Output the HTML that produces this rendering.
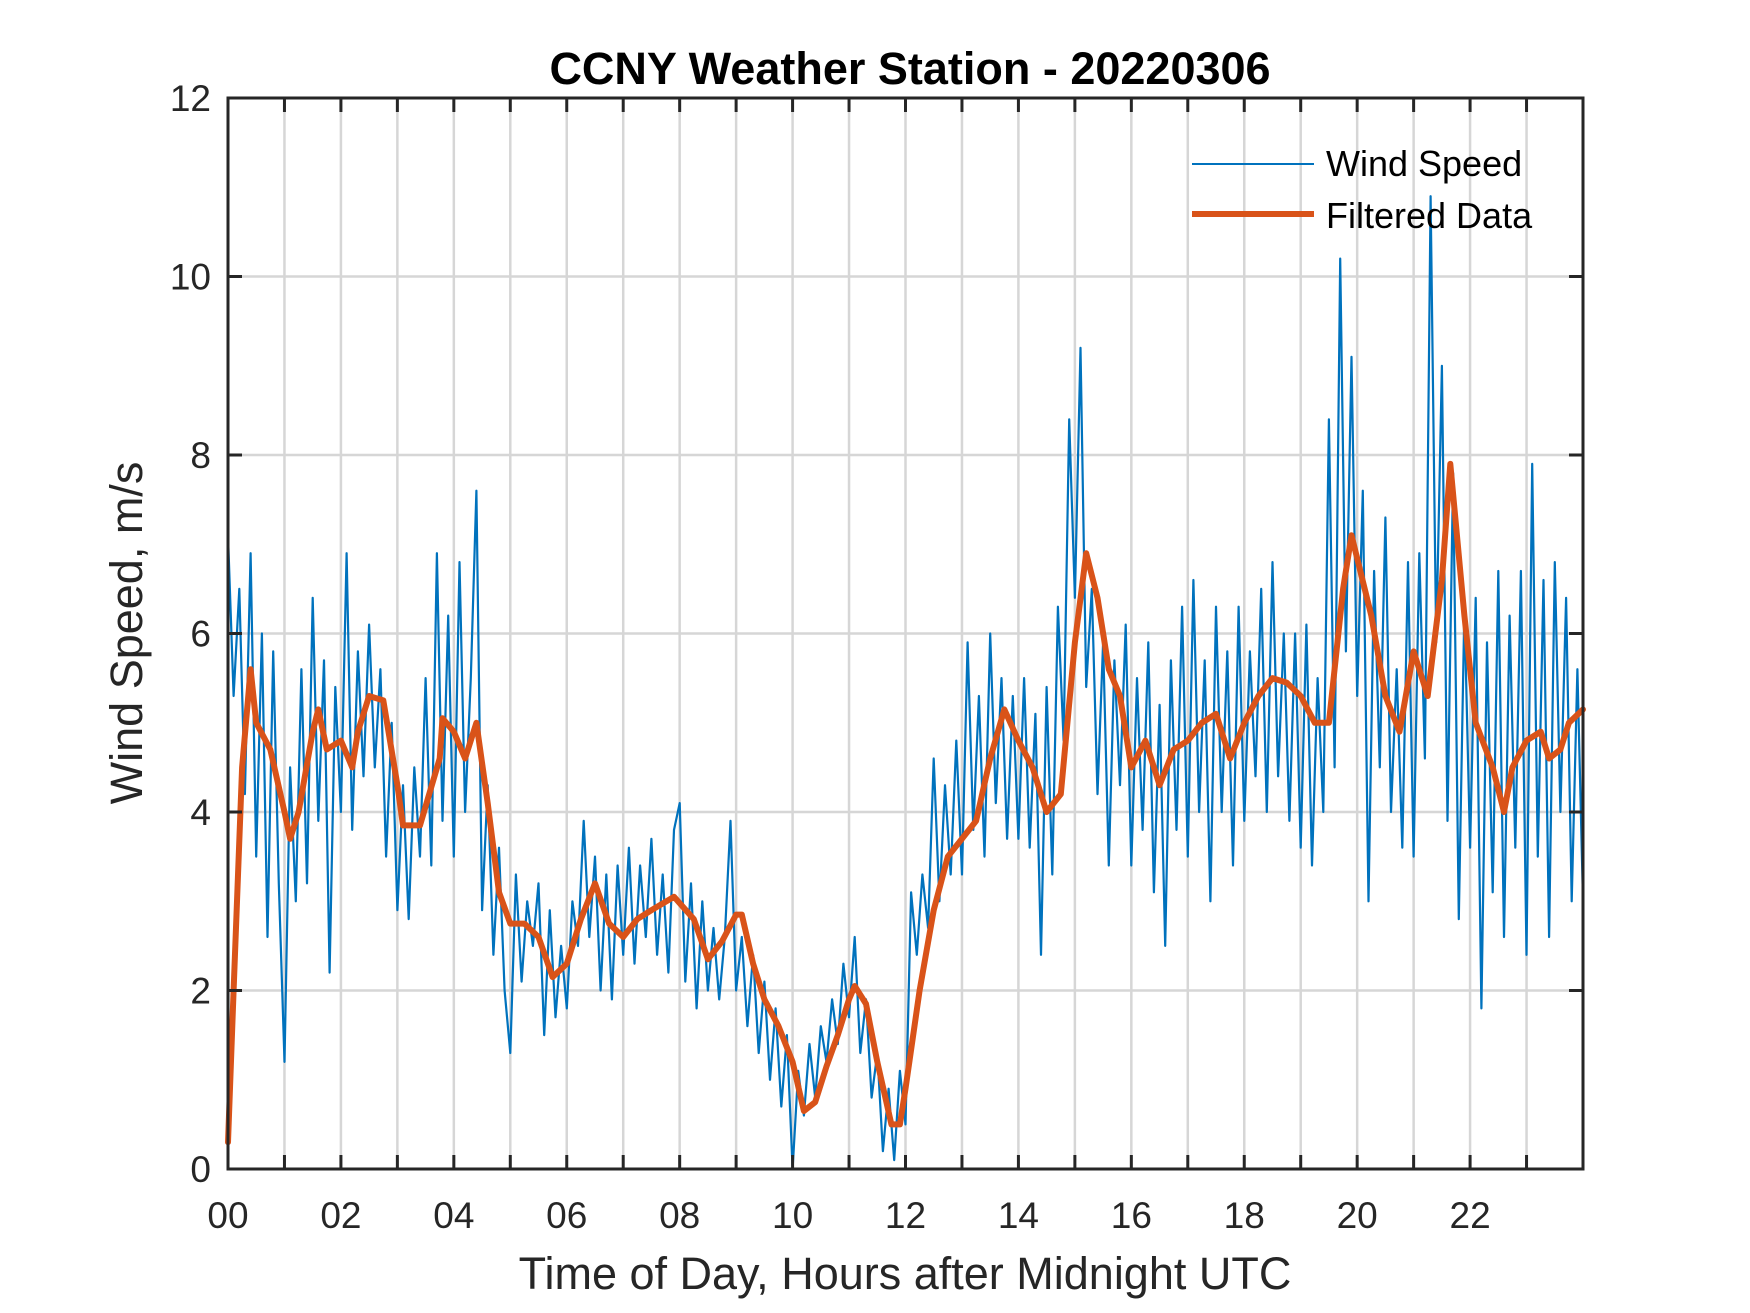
<!DOCTYPE html>
<html><head><meta charset="utf-8"><style>
html,body{margin:0;padding:0;background:#fff;}
svg{display:block;font-family:"Liberation Sans",Arial,sans-serif;}
</style></head><body>
<svg id="chart" width="1750" height="1313" viewBox="0 0 1750 1313" xmlns="http://www.w3.org/2000/svg">
<rect width="1750" height="1313" fill="#fff"/>
<g id="grid"></g>
<g id="series"></g>
<g id="axes"></g>
<text x="910" y="84" text-anchor="middle" font-size="45" font-weight="bold" fill="#000">CCNY Weather Station - 20220306</text>
<text x="905" y="1289" text-anchor="middle" font-size="45" fill="#262626">Time of Day, Hours after Midnight UTC</text>
<text transform="translate(142,633) rotate(-90)" text-anchor="middle" font-size="45" fill="#262626">Wind Speed, m/s</text>
<g>
<line x1="1192" y1="164" x2="1314" y2="164" stroke="#0072BD" stroke-width="2"/>
<text x="1326" y="176" font-size="36" fill="#000">Wind Speed</text>
<line x1="1192" y1="214" x2="1314" y2="214" stroke="#D95319" stroke-width="6"/>
<text x="1326" y="228" font-size="36" fill="#000">Filtered Data</text>
</g>
</svg>
<script>
const rawStep = 0.1;
const rawValues = [
7.1,5.3,6.5,4.2,6.9,3.5,6.0,2.6,5.8,3.2,
1.2,4.5,3.0,5.6,3.2,6.4,3.9,5.7,2.2,5.4,
4.0,6.9,3.8,5.8,4.4,6.1,4.5,5.6,3.5,5.0,
2.9,4.3,2.8,4.5,3.5,5.5,3.4,6.9,3.9,6.2,
3.5,6.8,4.0,5.5,7.6,2.9,4.3,2.4,3.6,2.0,
1.3,3.3,2.1,3.0,2.5,3.2,1.5,2.9,1.7,2.5,
1.8,3.0,2.5,3.9,2.6,3.5,2.0,3.3,1.9,3.4,
2.4,3.6,2.3,3.4,2.6,3.7,2.4,3.3,2.2,3.8,
4.1,2.1,3.2,1.8,3.0,2.0,2.7,1.9,2.6,3.9,
2.0,2.6,1.6,2.4,1.3,2.1,1.0,1.8,0.7,1.5,
0.0,1.1,0.6,1.4,0.8,1.6,1.2,1.9,1.4,2.3,
1.7,2.6,1.3,1.9,0.8,1.3,0.2,0.9,0.1,1.1,
0.5,3.1,2.4,3.3,2.7,4.6,3.0,4.3,3.3,4.8,
3.3,5.9,3.8,5.3,3.5,6.0,4.1,5.5,3.7,5.3,
3.7,5.5,3.6,5.1,2.4,5.4,3.3,6.3,4.8,8.4,
6.4,9.2,5.4,6.5,4.2,5.9,3.4,5.7,4.3,6.1,
3.4,5.5,3.8,5.9,3.1,5.2,2.5,5.7,3.8,6.3,
3.5,6.6,4.0,5.7,3.0,6.3,4.0,5.8,3.4,6.3,
3.9,5.8,4.4,6.5,4.0,6.8,4.4,6.0,3.9,6.0,
3.6,6.1,3.4,5.5,4.0,8.4,4.5,10.2,5.8,9.1,
5.3,7.6,3.0,6.7,4.5,7.3,4.0,5.6,3.6,6.8,
3.5,6.9,4.6,10.9,5.9,9.0,3.9,7.8,2.8,6.3,
3.6,6.4,1.8,5.9,3.1,6.7,2.6,6.2,3.6,6.7,
2.4,7.9,3.5,6.6,2.6,6.8,4.0,6.4,3.0,5.6,
3.0];
const filtHours = [0,0.1,0.25,0.4,0.5,0.75,1.0,1.1,1.25,1.5,1.6,1.75,2.0,2.2,2.3,2.5,2.75,3.0,3.1,3.4,3.75,3.8,4.0,4.2,4.4,4.6,4.8,5.0,5.25,5.5,5.75,6.0,6.25,6.5,6.75,7.0,7.25,7.5,7.9,8.25,8.5,8.75,9.0,9.1,9.3,9.5,9.75,10.0,10.2,10.4,10.6,10.8,11.0,11.1,11.3,11.5,11.75,11.9,12.0,12.25,12.5,12.75,13.0,13.25,13.5,13.75,14.0,14.25,14.5,14.75,15.0,15.2,15.4,15.6,15.8,16.0,16.25,16.5,16.75,17.0,17.25,17.5,17.75,18.0,18.25,18.5,18.75,19.0,19.25,19.5,19.75,19.9,20.25,20.5,20.75,21.0,21.25,21.5,21.65,21.9,22.1,22.4,22.6,22.75,23.0,23.25,23.4,23.6,23.75,24];
const filtValues = [0.3,2.0,4.5,5.6,5.0,4.7,4.0,3.7,4.0,4.9,5.15,4.7,4.8,4.5,4.9,5.3,5.25,4.3,3.85,3.85,4.6,5.05,4.9,4.6,5.0,4.1,3.1,2.75,2.75,2.6,2.15,2.3,2.8,3.2,2.75,2.6,2.8,2.9,3.05,2.8,2.35,2.55,2.85,2.85,2.3,1.9,1.6,1.2,0.65,0.75,1.15,1.5,1.9,2.05,1.85,1.2,0.5,0.5,0.9,2.0,2.9,3.5,3.7,3.9,4.6,5.15,4.8,4.5,4.0,4.2,5.9,6.9,6.4,5.6,5.3,4.5,4.8,4.3,4.7,4.8,5.0,5.1,4.6,5.0,5.3,5.5,5.45,5.3,5.0,5.0,6.5,7.1,6.2,5.3,4.9,5.8,5.3,6.6,7.9,6.2,5.0,4.5,4.0,4.5,4.8,4.9,4.6,4.7,5.0,5.15];
const yTicks = [0,2,4,6,8,10,12];
const xTickHours = [0,1,2,3,4,5,6,7,8,9,10,11,12,13,14,15,16,17,18,19,20,21,22,23];
const xTickLabels = ["00","02","04","06","08","10","12","14","16","18","20","22"];

const L=228,R=1583,T=98,B=1169;
const xs=h=>L+(h/24)*(R-L);
const ys=v=>B-(v/12)*(B-T);
const NS="http://www.w3.org/2000/svg";
function mk(tag,attrs,parent){const e=document.createElementNS(NS,tag);for(const k in attrs)e.setAttribute(k,attrs[k]);parent.appendChild(e);return e;}
const grid=document.getElementById('grid'),ser=document.getElementById('series'),ax=document.getElementById('axes');
xTickHours.forEach(h=>{const g=mk('line',{x1:xs(h),x2:xs(h),y1:T,y2:B,stroke:'#d6d6d6','stroke-width':2.5},grid);

});
yTicks.forEach(v=>{const g=mk('line',{x1:L,x2:R,y1:ys(v),y2:ys(v),stroke:'#d6d6d6','stroke-width':2.5},grid);

});
let d='';rawValues.forEach((v,i)=>{d+=(i?'L':'M')+xs(i*rawStep).toFixed(1)+' '+ys(v).toFixed(1);});
const p1=mk('path',{d:d,fill:'none',stroke:'#0072BD','stroke-width':2.2,'stroke-linejoin':'round'},ser);


let d2='';filtValues.forEach((v,i)=>{d2+=(i?'L':'M')+xs(filtHours[i]).toFixed(1)+' '+ys(v).toFixed(1);});
const p2=mk('path',{d:d2,fill:'none',stroke:'#D95319','stroke-width':6,'stroke-linejoin':'round','stroke-linecap':'round'},ser);


const box=mk('rect',{x:L,y:T,width:R-L,height:B-T,fill:'none',stroke:'#262626','stroke-width':3},ax);


xTickHours.forEach(h=>{mk('line',{x1:xs(h),x2:xs(h),y1:B,y2:B-14,stroke:'#262626','stroke-width':3},ax);mk('line',{x1:xs(h),x2:xs(h),y1:T,y2:T+14,stroke:'#262626','stroke-width':3},ax);});
xTickLabels.forEach((s,i)=>{const t=mk('text',{x:xs(i*2),y:1228,'text-anchor':'middle','font-size':37,fill:'#262626'},ax);t.textContent=s;

});
yTicks.forEach(v=>{mk('line',{x1:L,x2:L+14,y1:ys(v),y2:ys(v),stroke:'#262626','stroke-width':3},ax);mk('line',{x1:R,x2:R-14,y1:ys(v),y2:ys(v),stroke:'#262626','stroke-width':3},ax);
const t=mk('text',{x:211,y:ys(v)+13,'text-anchor':'end','font-size':37,fill:'#262626'},ax);t.textContent=String(v);

});
</script>
</body></html>
